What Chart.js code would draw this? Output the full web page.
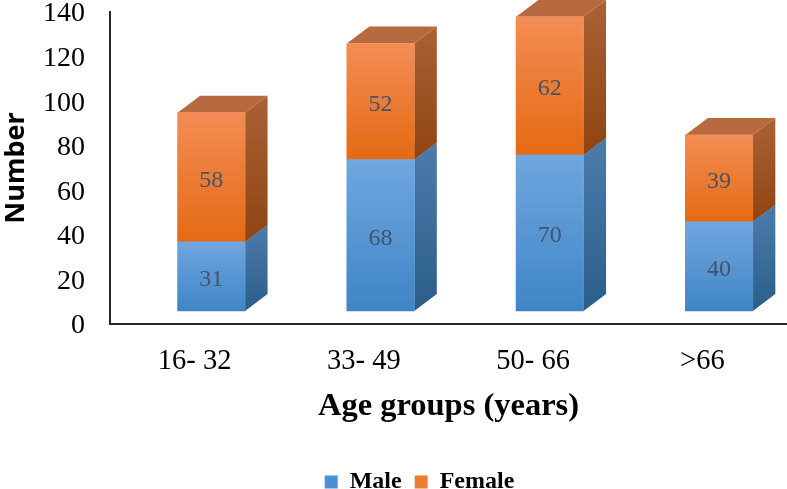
<!DOCTYPE html>
<html>
<head>
<meta charset="utf-8">
<style>
  html, body { margin: 0; padding: 0; background: #fff; }
  #wrap { width: 787px; height: 489px; }
</style>
<script src="https://cdn.jsdelivr.net/npm/chart.js@4"></script>
</head>
<body>
<div id="wrap"><canvas id="chart" width="787" height="489"></canvas></div>
<script>
const ageGroups = ['16- 32', '33- 49', '50- 66', '>66'];
const maleCounts = [31, 68, 70, 40];
const femaleCounts = [58, 52, 62, 39];
const yTicks = [0, 20, 40, 60, 80, 100, 120, 140];

// 3D look of the original: front face is shifted, side and top are extruded
const SHIFT_X = 16.7, SHIFT_Y = -13;
const DEPTH_X = 22.5, DEPTH_Y = -17;
const LEGEND_SHIFT = 26;
const LABEL_NUDGE = 3;

const faces = {
    Male: { front: ['#6fa7e0', '#3f85c6'], side: ['#4c7cab', '#2b5d8b'], top: '#5a8cc0' },
    Female: { front: ['#f38d55', '#e56a13'], side: ['#aa6135', '#8f4511'], top: '#b7693f' }
};

function vGradient(ctx, y0, y1, colors) {
    const g = ctx.createLinearGradient(0, y0, 0, y1);
    g.addColorStop(0, colors[0]);
    g.addColorStop(1, colors[1]);
    return g;
}

function frontFill(name, lows, highs) {
    return function (c) {
        const y = c.chart.scales.y;
        if (!y) return faces[name].front[1];
        return vGradient(c.chart.ctx, y.getPixelForValue(highs(c.dataIndex)), y.getPixelForValue(lows(c.dataIndex)), faces[name].front);
    };
}

const bars3d = {
    id: 'bars3d',
    afterLayout(chart) {
        // legend sits right of the canvas centre in the original
        chart.legend.left += LEGEND_SHIFT;
        chart.legend.right += LEGEND_SHIFT;
    },
    beforeDatasetsDraw(chart) {
        const ctx = chart.ctx;
        ctx.save();
        ctx.translate(SHIFT_X, SHIFT_Y);
        chart.data.datasets.forEach((ds, i) => {
            const f = faces[ds.label];
            chart.getDatasetMeta(i).data.forEach(bar => {
                const p = bar.getProps(['x', 'y', 'base', 'width']);
                const r = p.x + p.width / 2, l = p.x - p.width / 2;
                ctx.fillStyle = vGradient(ctx, p.y + DEPTH_Y, p.base, f.side);
                ctx.beginPath();
                ctx.moveTo(r, p.y);
                ctx.lineTo(r + DEPTH_X, p.y + DEPTH_Y);
                ctx.lineTo(r + DEPTH_X, p.base + DEPTH_Y);
                ctx.lineTo(r, p.base);
                ctx.closePath();
                ctx.fill();
                ctx.fillStyle = f.top;
                ctx.beginPath();
                ctx.moveTo(l, p.y);
                ctx.lineTo(l + DEPTH_X, p.y + DEPTH_Y);
                ctx.lineTo(r + DEPTH_X, p.y + DEPTH_Y);
                ctx.lineTo(r, p.y);
                ctx.closePath();
                ctx.fill();
            });
        });
    },
    afterDatasetsDraw(chart) {
        const ctx = chart.ctx;
        ctx.font = '24px "Liberation Serif"';
        ctx.fillStyle = '#44546a';
        ctx.textAlign = 'center';
        ctx.textBaseline = 'middle';
        chart.data.datasets.forEach((ds, i) => {
            chart.getDatasetMeta(i).data.forEach((bar, j) => {
                const p = bar.getProps(['x', 'y', 'base']);
                ctx.fillText(ds.data[j], p.x, (p.y + p.base) / 2 + LABEL_NUDGE);
            });
        });
        ctx.restore();
    }
};

new Chart(document.getElementById('chart'), {
    type: 'bar',
    data: {
        labels: ageGroups,
        datasets: [
            {
                label: 'Male',
                data: maleCounts,
                clip: false,
                backgroundColor: frontFill('Male', () => 0, j => maleCounts[j])
            },
            {
                label: 'Female',
                data: femaleCounts,
                clip: false,
                backgroundColor: frontFill('Female', j => maleCounts[j], j => maleCounts[j] + femaleCounts[j])
            }
        ]
    },
    plugins: [bars3d],
    options: {
        responsive: false,
        animation: false,
        layout: { autoPadding: false, padding: { top: 12, right: 0, bottom: -15, left: 0 } },
        datasets: { bar: { barThickness: 67.5 } },
        scales: {
            x: {
                stacked: true,
                grid: { display: false, drawTicks: false },
                border: { display: true, color: '#262626', width: 2 },
                ticks: {
                    color: '#000',
                    padding: 20,
                    maxRotation: 0,
                    font: { family: '"Liberation Serif"', size: 28.5 }
                },
                title: {
                    display: true,
                    text: 'Age groups (years)',
                    color: '#000',
                    padding: { top: 10, bottom: 31 },
                    font: { family: '"Liberation Serif"', size: 32.5, weight: 'bold' }
                },
                afterFit(scale) {
                    scale.height = 133;
                    scale.paddingLeft = 0;
                    scale.paddingRight = 0;
                }
            },
            y: {
                stacked: true,
                min: 0,
                max: 140,
                afterBuildTicks(scale) { scale.ticks = yTicks.map(v => ({ value: v })); },
                grid: { display: false, drawTicks: false },
                border: { display: true, color: '#262626', width: 2 },
                ticks: {
                    color: '#000',
                    padding: 25,
                    labelOffset: 2,
                    font: { family: '"Liberation Serif"', size: 28 }
                },
                title: {
                    display: true,
                    text: 'Number',
                    color: '#000',
                    padding: { top: 0, bottom: 0 },
                    font: { family: '"Open Sans"', size: 27, weight: 'bold' }
                },
                afterFit(scale) {
                    scale.width = 110;
                    scale.paddingTop = 0;
                    scale.paddingBottom = 0;
                }
            }
        },
        plugins: {
            tooltip: { enabled: false },
            legend: {
                position: 'bottom',
                labels: {
                    color: '#000',
                    boxWidth: 13,
                    boxHeight: 13,
                    padding: 13,
                    font: { family: '"Liberation Serif"', size: 24, weight: 'bold' },
                    generateLabels(chart) {
                        return chart.data.datasets.map((ds, i) => ({
                            text: ds.label,
                            fillStyle: i === 0 ? '#4a90d6' : '#ed7d31',
                            strokeStyle: 'transparent',
                            lineWidth: 0,
                            fontColor: '#000',
                            datasetIndex: i
                        }));
                    }
                }
            }
        }
    }
});
</script>
</body>
</html>
